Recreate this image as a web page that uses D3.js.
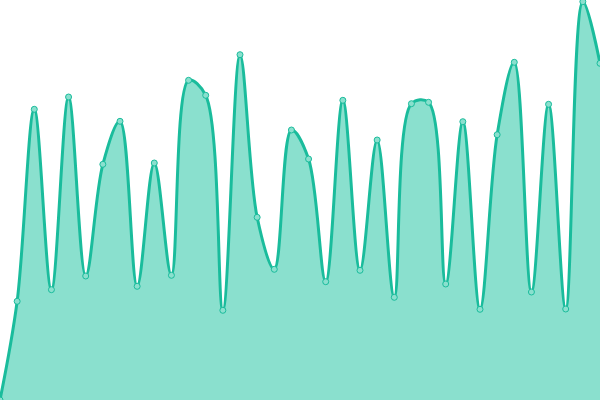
<!DOCTYPE html>
<html>
<head>
<meta charset="utf-8">
<script src="https://cdn.jsdelivr.net/npm/d3@7"></script>
<style>
html,body{margin:0;padding:0;background:#fff;}
svg{display:block;}
</style>
</head>
<body>
<svg id="chart" width="600" height="400"></svg>
<script>
const indices = d3.range(36);
const values = [0, 98.7, 290.7, 110.3, 303, 124, 235.7, 278.7, 113.7, 237, 124.7, 319.7,
  304.7, 89.7, 345.3, 182.7, 130.7, 270, 241, 118.3, 299.7, 129.7, 260, 102.7,
  296.3, 297.7, 116, 278.3, 90.7, 265.3, 337.7, 108, 295.7, 91, 398.3, 336.7];

const width = 600, height = 400;
const svg = d3.select("#chart");
const x = d3.scaleLinear().domain([0, indices.length - 1]).range([0, width]);
const y = d3.scaleLinear().domain([0, 400]).range([height, 0]);

const data = indices.map((i) => ({i, v: values[i]}));

const curve = d3.curveCatmullRom.alpha(0.5);
const area = d3.area().x(d => x(d.i)).y0(y(0)).y1(d => y(d.v)).curve(curve);
const line = d3.line().x(d => x(d.i)).y(d => y(d.v)).curve(curve);

svg.append("path").datum(data).attr("d", area).attr("fill", "#8ae0ce");
svg.append("path").datum(data).attr("d", line).attr("fill", "none")
  .attr("stroke", "#1abc9c").attr("stroke-width", 3);

svg.selectAll("circle").data(data).join("circle")
  .attr("cx", d => x(d.i)).attr("cy", d => y(d.v)).attr("r", 3)
  .attr("fill", "#8ae0ce").attr("stroke", "#1abc9c").attr("stroke-width", 1);
</script>
</body>
</html>
